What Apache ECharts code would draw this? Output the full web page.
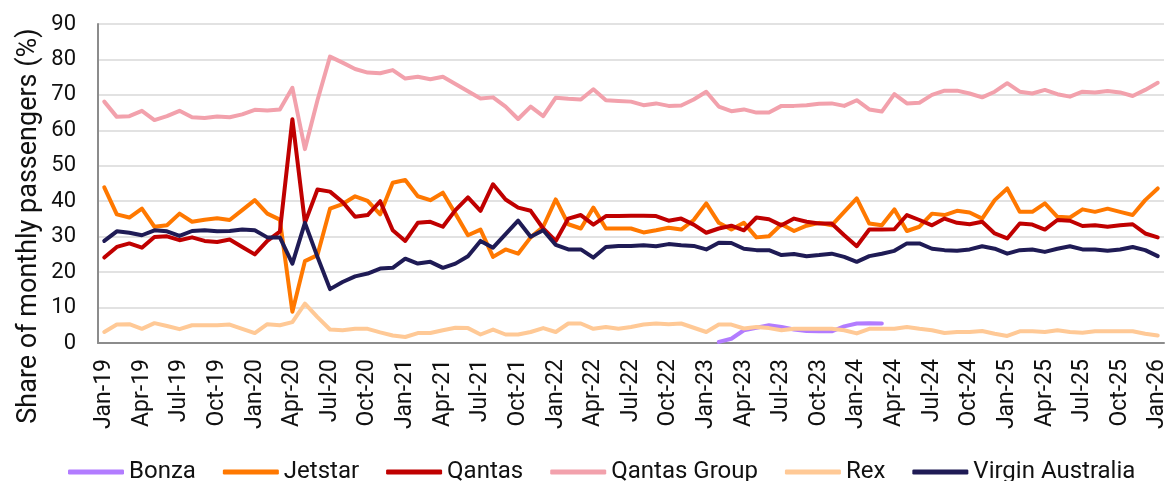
<!DOCTYPE html>
<html>
<head>
<meta charset="utf-8">
<script src="https://cdn.jsdelivr.net/npm/echarts@6/dist/echarts.min.js"></script>
<style>
  html, body { margin: 0; padding: 0; background: #fff; }
  #chart { width: 1171px; height: 481px; }
</style>
</head>
<body>
<div id="chart"></div>
<script>
// months Jan-19 .. Jan-26
var monthNames = ["Jan", "Feb", "Mar", "Apr", "May", "Jun", "Jul", "Aug", "Sep", "Oct", "Nov", "Dec"];
var months = [];
for (var y = 19; y <= 26; y++) {
  for (var m = 0; m < 12; m++) {
    months.push(monthNames[m] + "-" + y);
    if (y === 26) break;
  }
}

var qantasGroup = [68.1, 63.8, 64.0, 65.5, 62.9, 64.0, 65.5, 63.7, 63.5, 63.9, 63.7, 64.5,
  65.8, 65.6, 65.9, 72.0, 54.7, 68.5, 80.8, 79.1, 77.3, 76.3, 76.1, 77.0,
  74.6, 75.1, 74.4, 75.1, 73.1, 71.0, 69.0, 69.3, 66.7, 63.2, 66.7, 64.0,
  69.2, 68.9, 68.7, 71.6, 68.5, 68.3, 68.1, 67.1, 67.6, 66.9, 67.0, 68.7,
  70.9, 66.7, 65.4, 65.9, 65.0, 65.0, 66.9, 66.9, 67.1, 67.5, 67.6, 66.9,
  68.5, 65.9, 65.3, 70.2, 67.6, 67.8, 70.0, 71.2, 71.2, 70.4, 69.3, 70.9,
  73.3, 70.9, 70.4, 71.4, 70.2, 69.5, 70.9, 70.7, 71.1, 70.7, 69.7, 71.4,
  73.4];

var jetstar = [43.9, 36.3, 35.4, 37.9, 32.8, 33.2, 36.5, 34.2, 34.8, 35.2, 34.7, 37.5,
  40.3, 36.5, 34.8, 8.8, 23.1, 24.8, 37.9, 39.2, 41.4, 40.1, 36.3, 45.2,
  46.0, 41.4, 40.3, 42.4, 36.5, 30.4, 32.0, 24.3, 26.4, 25.2, 29.8, 32.8,
  40.5, 33.5, 32.3, 38.2, 32.3, 32.3, 32.3, 31.2, 31.8, 32.5, 32.0, 34.7,
  39.4, 33.9, 32.0, 33.9, 29.8, 30.1, 33.5, 31.6, 33.1, 33.9, 33.2, 37.0,
  40.8, 33.7, 33.2, 37.7, 31.6, 32.8, 36.5, 36.1, 37.3, 36.8, 35.1, 40.3,
  43.6, 37.0, 37.0, 39.4, 35.6, 35.4, 37.7, 37.0, 37.9, 37.0, 36.1, 40.3,
  43.6];

var qantas = [24.1, 27.1, 28.1, 26.9, 29.9, 30.1, 29.0, 29.8, 28.8, 28.5, 29.2, 27.1,
  25.0, 28.8, 31.4, 63.1, 33.9, 43.3, 42.7, 39.8, 35.6, 36.1, 40.0, 31.8,
  28.8, 33.9, 34.2, 32.8, 37.5, 41.1, 37.3, 44.8, 40.5, 38.2, 37.3, 32.3,
  28.8, 35.1, 36.1, 33.4, 35.8, 35.8, 35.9, 35.9, 35.8, 34.5, 35.1, 33.4,
  31.1, 32.3, 33.1, 31.8, 35.4, 34.9, 33.2, 35.1, 34.2, 33.7, 33.7, 30.4,
  27.3, 32.0, 32.0, 32.1, 36.1, 34.7, 33.2, 35.1, 33.9, 33.5, 34.2, 30.9,
  29.5, 33.7, 33.4, 32.0, 34.7, 34.5, 33.0, 33.2, 32.8, 33.2, 33.5, 30.9,
  29.8];

var virgin = [28.8, 31.5, 31.1, 30.4, 31.8, 31.5, 30.2, 31.6, 31.8, 31.5, 31.6, 32.0,
  31.8, 29.8, 29.8, 22.4, 33.9, 24.3, 15.2, 17.2, 18.8, 19.6, 21.0, 21.2,
  23.8, 22.4, 22.9, 21.2, 22.4, 24.5, 28.8, 26.9, 30.7, 34.5, 30.0, 31.8,
  27.7, 26.4, 26.4, 24.1, 27.1, 27.4, 27.4, 27.6, 27.3, 27.9, 27.6, 27.4,
  26.4, 28.3, 28.2, 26.6, 26.2, 26.2, 24.8, 25.1, 24.5, 24.8, 25.2, 24.3,
  22.9, 24.5, 25.2, 26.0, 28.1, 28.1, 26.6, 26.2, 26.0, 26.4, 27.3, 26.6,
  25.2, 26.2, 26.4, 25.7, 26.6, 27.3, 26.4, 26.4, 26.0, 26.4, 27.1, 26.2,
  24.5];

var rex = [3.1, 5.2, 5.3, 4.0, 5.6, 4.8, 3.9, 5.0, 5.0, 5.0, 5.2, 4.0,
  2.8, 5.3, 5.0, 5.9, 11.1, 7.3, 3.8, 3.6, 4.0, 4.0, 3.0, 2.1,
  1.7, 2.8, 2.8, 3.6, 4.3, 4.2, 2.4, 3.8, 2.4, 2.4, 3.1, 4.2,
  3.1, 5.5, 5.5, 4.0, 4.5, 4.0, 4.5, 5.2, 5.5, 5.3, 5.5, 4.3,
  3.1, 5.2, 5.2, 4.1, 4.5, 4.2, 3.6, 4.0, 4.0, 4.0, 4.0, 3.6,
  2.7, 4.0, 4.0, 4.0, 4.5, 4.0, 3.6, 2.8, 3.1, 3.1, 3.4, 2.6,
  2.0, 3.3, 3.3, 3.1, 3.6, 3.1, 2.9, 3.3, 3.3, 3.3, 3.3, 2.6,
  2.1];

// Bonza flew Feb-23 .. Mar-24
var bonzaStart = "Feb-23";
var bonzaValues = [0.3, 1.2, 3.6, 4.3, 5.0, 4.5, 3.8, 3.4, 3.3, 3.3, 4.7, 5.5, 5.6, 5.5];

var bonza = months.map(function (mm, i) {
  var k = i - months.indexOf(bonzaStart);
  return k >= 0 && k < bonzaValues.length ? bonzaValues[k] : null;
});

var FONT = "Roboto";

function lineSeries(name, data, color) {
  return {
    name: name,
    type: "line",
    data: data,
    showSymbol: false,
    symbol: "none",
    connectNulls: false,
    lineStyle: { width: 4, color: color, cap: "round", join: "round" },
    itemStyle: { color: color },
    emphasis: { disabled: true }
  };
}

var myChart = echarts.init(document.getElementById("chart"));
myChart.setOption({
  animation: false,
  backgroundColor: "#fff",
  textStyle: { fontFamily: FONT },
  grid: { left: 98, right: 7, top: 24, bottom: 138 },
  // y axis title, sits lower than the plot middle like the original
  graphic: [{
    type: "text",
    x: 29,
    y: 226,
    rotation: Math.PI / 2,
    style: {
      text: "Share of monthly passengers (%)",
      font: "27px Roboto",
      fill: "#111",
      align: "center",
      verticalAlign: "middle"
    }
  }],
  legend: {
    left: 63,
    top: 455,
    icon: "roundRect",
    itemWidth: 56,
    itemHeight: 5,
    itemGap: 27,
    textStyle: { fontFamily: FONT, fontSize: 24, color: "#111" },
    data: ["Bonza", "Jetstar", "Qantas", "Qantas Group", "Rex", "Virgin Australia"]
  },
  xAxis: {
    type: "category",
    data: months,
    boundaryGap: true,
    axisLine: { lineStyle: { color: "#8c8c8c", width: 2 } },
    axisTick: { show: false },
    axisLabel: {
      interval: 2,
      rotate: 90,
      margin: 16,
      fontFamily: FONT,
      fontSize: 23,
      color: "#111"
    }
  },
  yAxis: {
    type: "value",
    min: 0,
    max: 90,
    interval: 10,
    axisLine: { show: true, lineStyle: { color: "#8c8c8c", width: 2 } },
    axisTick: { show: false },
    splitLine: { lineStyle: { color: "#d9d9d9", width: 1.5 } },
    axisLabel: { margin: 22, fontFamily: FONT, fontSize: 22, color: "#111" }
  },
  series: [
    lineSeries("Bonza", bonza, "#b27cff"),
    lineSeries("Jetstar", jetstar, "#ff7800"),
    lineSeries("Qantas", qantas, "#c00000"),
    lineSeries("Qantas Group", qantasGroup, "#f2a1ac"),
    lineSeries("Rex", rex, "#ffc996"),
    lineSeries("Virgin Australia", virgin, "#1f1b55")
  ]
});
</script>
</body>
</html>
